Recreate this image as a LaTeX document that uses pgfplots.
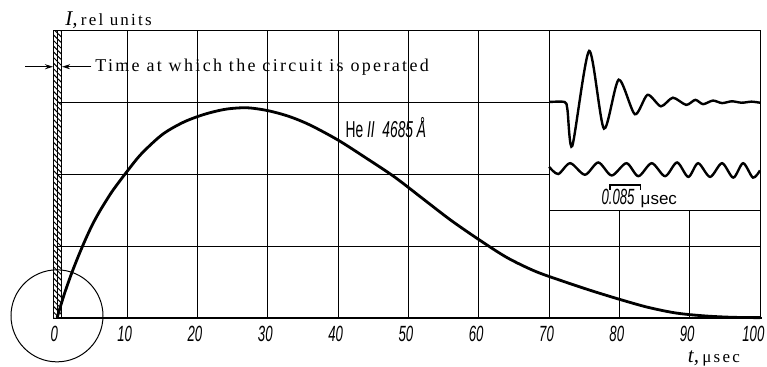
\documentclass[border=0pt]{standalone}
\usepackage{fontspec}
\setmainfont{Liberation Serif}
\newfontfamily\cond[FakeStretch=0.6]{Liberation Sans}
\newfontfamily\wideserif[LetterSpace=13]{Liberation Serif}
\newfontfamily\sanslab{Liberation Sans}
\usepackage{pgfplots}
\pgfplotsset{compat=1.18}
\usetikzlibrary{patterns.meta,arrows.meta}
\begin{document}
\begin{tikzpicture}
\useasboundingbox (-28.5pt,-24pt) rectangle (355pt,159pt);
\begin{axis}[
  at={(0,0)}, anchor=south west,
  scale only axis, width=351.5pt, height=144pt,
  xmin=0, xmax=100, ymin=0, ymax=4,
  clip=false,
  axis line style={draw=none},
  xtick={0,10,...,100}, ytick={0,1,2,3,4}, yticklabels={},
  xticklabels={0,10,20,30,40,50,60,70,80,90,\hspace*{-4pt}100},
  major tick length=0pt,
  xmajorgrids, ymajorgrids,
  grid style={black, line width=0.5pt},
  /pgf/number format/assume math mode=true,
  xticklabel style={font=\cond\itshape\fontsize{11}{11}\selectfont, yshift=-0.5pt, xshift=-1.3pt},
]
% bottom axis line
\draw[line width=1.1pt] (axis cs:0,0) -- (axis cs:100.3,0);
% hatched bar at t=0
\draw[line width=0.5pt, pattern={Lines[angle=-45,distance=2pt,line width=0.5pt]}]
  (axis cs:-0.53,0) rectangle (axis cs:0.67,4);
% circle round origin
\draw[line width=0.5pt] (axis cs:0,0.03) circle [radius=23pt];
% main curve
\addplot[smooth, line width=1.4pt] coordinates {
 (0,0) (1,0.32) (2,0.60) (3,0.85) (4,1.08) (5,1.29) (6,1.47) (7,1.63) (8,1.78)
 (10,2.04) (12,2.28) (15,2.55) (18,2.72) (21,2.83) (24,2.90) (27,2.92) (30,2.88)
 (33,2.80) (36,2.68) (40,2.47) (44,2.22) (48,1.96) (52,1.66) (56,1.36) (60,1.09)
 (64,0.84) (68,0.65) (72,0.51) (76,0.38) (80,0.26) (84,0.15) (88,0.07) (92,0.03)
 (96,0.01) (100,0.005)
};
% inset
\draw[fill=white, line width=0.5pt] (axis cs:70,1.5) rectangle (axis cs:100,4);
\addplot[smooth, tension=0.45, line width=1.2pt] coordinates {
 (70,3.0) (72.2,3.0) (72.6,2.9) (73.3,2.39) (75.7,3.71) (77.8,2.63) (79.9,3.31)
 (82.2,2.83) (84.0,3.10) (85.9,2.94) (87.6,3.06) (89.5,2.96) (90.8,3.03) (91.9,2.97)
 (93.3,3.02) (94.6,2.985) (96,3.01) (97.4,2.99) (98.8,3.005) (100,2.99)
};
\addplot[smooth, line width=1.2pt] coordinates {
 (70,2.10) (71.3,2.0) (73.0,2.15) (75.1,1.99) (77.0,2.16) (78.9,1.98) (81.0,2.15)
 (82.7,1.97) (84.6,2.15) (86.5,1.97) (88.2,2.16) (89.8,1.96) (91.2,2.15) (92.9,1.96)
 (94.6,2.15) (96.2,1.95) (97.6,2.15) (99.0,1.95) (100,2.05)
};
% scale bar
\draw[line width=0.8pt] (axis cs:78.7,1.78) -- (axis cs:78.7,1.85) -- (axis cs:83.0,1.85) -- (axis cs:83.0,1.78);
\node[anchor=west, inner sep=0pt] at (axis cs:77.4,1.66)
  {{\cond\itshape\fontsize{11}{11}\selectfont 0.085}\,{\sanslab\fontsize{8.5}{9}\selectfont\,μsec}};
% line label
\node[anchor=west, inner sep=0pt] at (axis cs:41,2.65)
  {\cond\fontsize{11.5}{12}\selectfont He\,\textit{II}\, \textit{4685\,Å}};
% time annotation
\draw[line width=0.5pt, -{Stealth[length=4pt,width=2.5pt]}] (axis cs:-4.55,3.49) -- (axis cs:-0.57,3.49);
\draw[line width=0.5pt, -{Stealth[length=4pt,width=2.5pt]}] (axis cs:4.9,3.49) -- (axis cs:0.72,3.49);
\node[anchor=west, inner sep=0pt] at (axis cs:5.4,3.49)
  {\wideserif\fontsize{9}{10}\selectfont Time at which the circuit is operated};
% axis labels
\node[anchor=base west, inner sep=0pt] at ([xshift=4pt,yshift=2.5pt]axis cs:0,4)
  {\textit{\fontsize{10.5}{10}\selectfont I,}\,{\wideserif\fontsize{8.5}{9}\selectfont rel units}};
\node[anchor=base west, inner sep=0pt] at ([yshift=-22pt]axis cs:89.7,0)
  {\textit{\fontsize{10.5}{10}\selectfont t,}\,{\wideserif\fontsize{8.5}{9}\selectfont μsec}};
\end{axis}
\end{tikzpicture}
\end{document}
